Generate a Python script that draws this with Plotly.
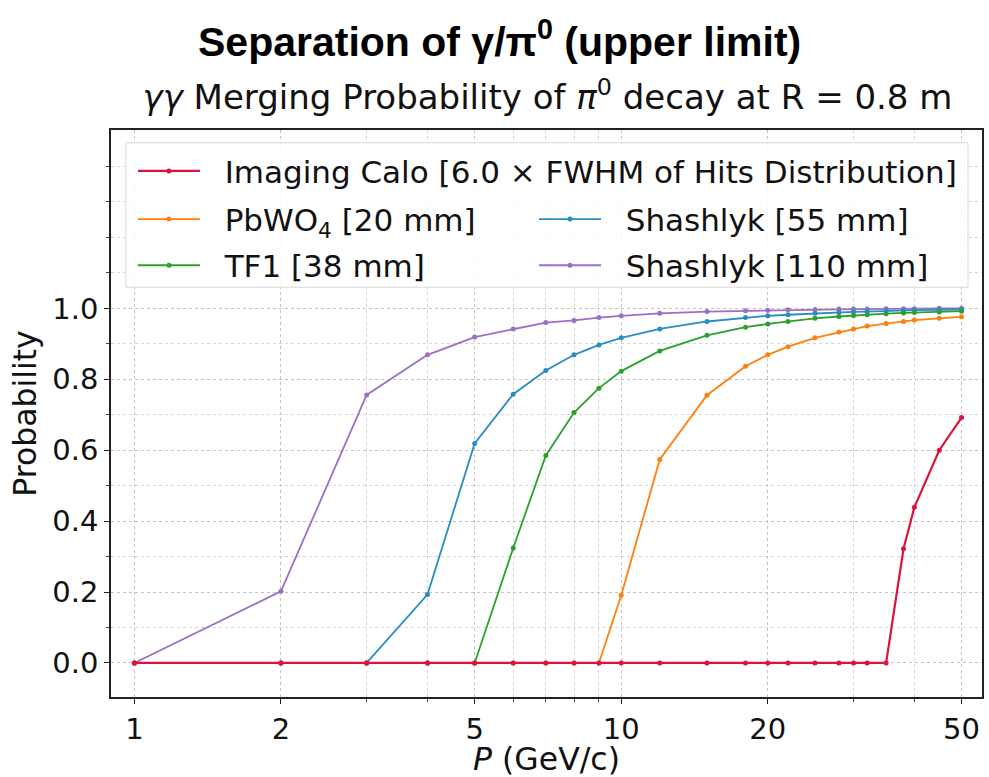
import plotly.graph_objects as go

# ---- data ----
momentum = [1, 2, 3, 4, 5, 6, 7, 8, 9, 10, 12, 15, 18, 20, 22, 25, 28, 30, 32, 35, 38, 40, 45, 50]

imaging_calo = [0]*20 + [0.322, 0.439, 0.600, 0.692]
pbwo4 = [0, 0, 0, 0, 0, 0, 0, 0, 0, 0.191, 0.574, 0.755, 0.837, 0.869, 0.892, 0.917,
         0.933, 0.942, 0.950, 0.957, 0.963, 0.967, 0.972, 0.976]
tf1 = [0, 0, 0, 0, 0, 0.324, 0.585, 0.706, 0.775, 0.823, 0.880, 0.924, 0.947, 0.956,
       0.963, 0.972, 0.977, 0.980, 0.982, 0.985, 0.987, 0.988, 0.990, 0.992]
shashlyk55 = [0, 0, 0, 0.193, 0.619, 0.758, 0.825, 0.869, 0.897, 0.917, 0.942, 0.963,
              0.974, 0.979, 0.982, 0.986, 0.988, 0.990, 0.991, 0.993, 0.994, 0.995, 0.996, 0.997]
shashlyk110 = [0, 0.202, 0.756, 0.869, 0.919, 0.942, 0.960, 0.966, 0.974, 0.979, 0.986,
               0.991, 0.993, 0.995, 0.996, 0.997, 0.998, 0.998, 0.998, 0.999, 0.999, 0.999, 1.0, 1.0]

GAP = "&nbsp;&nbsp;"
labels = {
    "calo": GAP + "Imaging Calo [6.0 × FWHM of Hits Distribution]",
    "pbwo4": GAP + "PbWO<sub>4</sub> [20 mm]",
    "tf1": GAP + "TF1 [38 mm]",
    "s55": GAP + "Shashlyk [55 mm]",
    "s110": GAP + "Shashlyk [110 mm]",
}

x_ticks = [1, 2, 5, 10, 20, 50]
x_minor = [3, 4, 6, 7, 8, 9, 30, 40]
y_ticks = [0.0, 0.2, 0.4, 0.6, 0.8, 1.0]
y_minor = [0.1, 0.3, 0.5, 0.7, 0.9, 1.1, 1.2, 1.3, 1.4]

# ---- layout geometry (pixels) ----
W, H = 989, 777
L, R, T, B = 111, 5, 130, 70
PW, PH = W - L - R, H - T - B

def px(xp):
    return (xp - L) / PW

def py(yp):
    return (H - B - yp) / PH

FONT = "DejaVu Sans"
series = [
    ("s110", shashlyk110, "#9a6fc6", "legend5", 1.8),
    ("s55", shashlyk55, "#2a8cc4", "legend4", 1.8),
    ("tf1", tf1, "#2ca02c", "legend3", 1.8),
    ("pbwo4", pbwo4, "#ff7f0e", "legend2", 1.8),
    ("calo", imaging_calo, "#dc143c", "legend", 2.2),
]

fig = go.Figure()
for key, vals, color, leg, lw in series:
    fig.add_trace(go.Scatter(
        x=momentum, y=vals, mode="lines+markers", name=labels[key],
        line=dict(color=color, width=lw),
        marker=dict(color=color, size=5),
        legend=leg, showlegend=True,
    ))

leg_common = dict(bgcolor="rgba(0,0,0,0)", borderwidth=0, visible=True,
                  font=dict(family=FONT, size=31, color="#111"),
                  xanchor="left", yanchor="middle", itemwidth=62)
legend_pos = {
    "legend": (133, 172),
    "legend2": (133, 221),
    "legend3": (133, 268),
    "legend4": (535, 221),
    "legend5": (535, 268),
}
legends = {name: dict(leg_common, x=px(xp), y=py(yp)) for name, (xp, yp) in legend_pos.items()}

fig.update_layout(
    width=W, height=H,
    margin=dict(l=L, r=R, t=T, b=B),
    paper_bgcolor="white", plot_bgcolor="white",
    showlegend=True,
    font=dict(family=FONT, size=29, color="#111"),
    title=dict(
        text="<i>γγ</i> Merging Probability of <i>π</i><sup>0</sup> decay at R = 0.8 m",
        x=0.5 * (L + W - R) / W, xanchor="center", y=1 - 97 / H, yanchor="middle",
        font=dict(family=FONT, size=34, color="#111"),
    ),
    **legends,
    xaxis=dict(
        type="log", range=[-0.048, 1.741],
        tickvals=x_ticks, ticktext=[str(v) for v in x_ticks],
        ticks="outside", ticklen=5, tickcolor="#222",
        showline=True, linecolor="#222", linewidth=1.5, mirror=True,
        showgrid=True, gridcolor="#c4c4c4", griddash="dot", gridwidth=1,
        minor=dict(tickvals=x_minor, ticks="outside", ticklen=3, tickcolor="#444",
                   showgrid=True, gridcolor="#d4d4d4", griddash="dot", gridwidth=1),
        title=dict(text="<i>P</i> (GeV/c)", font=dict(size=31.5), standoff=4),
        zeroline=False,
    ),
    yaxis=dict(
        range=[-0.096, 1.503],
        tickvals=y_ticks, ticktext=[f"{v:.1f}" for v in y_ticks],
        ticks="outside", ticklen=5, tickcolor="#222",
        showline=True, linecolor="#222", linewidth=1.5, mirror=True,
        showgrid=True, gridcolor="#c4c4c4", griddash="dot", gridwidth=1,
        minor=dict(tickvals=y_minor, ticks="outside", ticklen=3, tickcolor="#444",
                   showgrid=True, gridcolor="#d4d4d4", griddash="dot", gridwidth=1),
        title=dict(text="Probability", font=dict(size=31.5), standoff=6),
        zeroline=False,
    ),
    annotations=[dict(
        text="<b>Separation of γ/π<sup>0</sup> (upper limit)</b>",
        xref="paper", yref="paper", x=px(500), y=py(37),
        xanchor="center", yanchor="middle", showarrow=False,
        font=dict(family="Liberation Sans", size=41, color="#000"),
    )],
    shapes=[dict(
        type="rect", xref="paper", yref="paper",
        x0=px(126), x1=px(970), y0=py(290), y1=py(143),
        line=dict(color="#d8d8d8", width=1), fillcolor="rgba(255,255,255,0.85)",
        layer="above",
    )],
)

fig.write_html("out.html")
